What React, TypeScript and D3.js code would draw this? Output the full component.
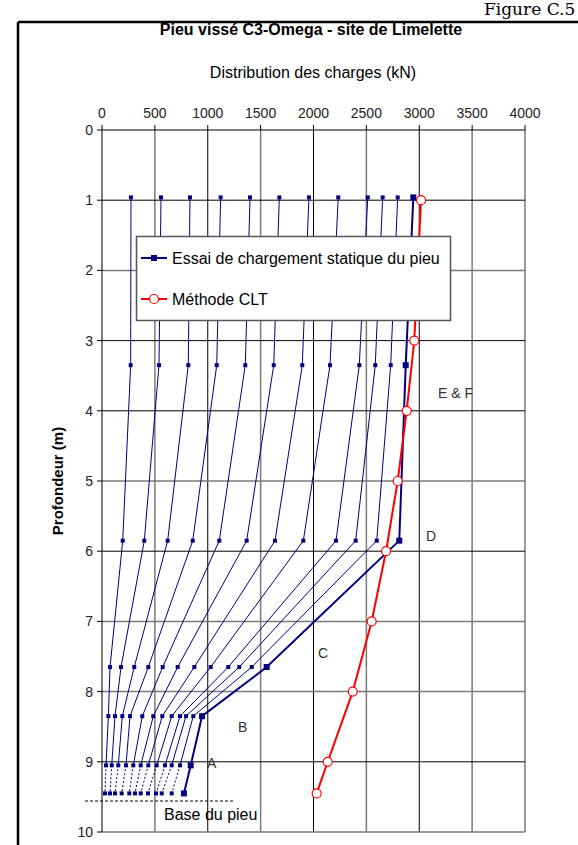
import * as d3 from 'd3';

// Profondeurs des jauges (m)
const depthsEssai = [0.96, 3.35, 5.85, 7.65, 8.35, 9.05, 9.45];

// Charges mesurées (kN) pour chaque palier de chargement, de haut en bas
const paliers = [
    [274, 271, 196, 76, 60, 38, 28],
    [558, 539, 400, 180, 123, 92, 76],
    [832, 816, 621, 305, 192, 154, 123],
    [1122, 1085, 858, 438, 265, 227, 186],
    [1400, 1355, 1109, 574, 381, 296, 258],
    [1677, 1624, 1368, 716, 485, 366, 312],
    [1957, 1894, 1636, 873, 570, 438, 366],
    [2234, 2156, 1904, 1028, 659, 517, 435],
    [2513, 2433, 2213, 1194, 738, 596, 511],
    [2654, 2584, 2399, 1298, 794, 659, 565],
    [2796, 2730, 2598, 1416, 863, 738, 659],
    [2944, 2872, 2811, 1557, 946, 839, 775],
];

// Méthode CLT
const depthsClt = [1, 3, 4, 5, 6, 7, 8, 9, 9.45];
const loadsClt = [3017, 2953, 2881, 2796, 2686, 2550, 2371, 2134, 2030];

// Annotations
const zoneLabels = ['E & F', 'D', 'C', 'B', 'A'];
const zoneLoads = [3177, 3064, 2043, 1286, 993];
const zoneDepths = [3.74, 5.78, 7.45, 8.5, 9.02];

const FONT = "Arial, 'Liberation Sans', sans-serif";
const NAVY = '#000080';

export default function App() {
    const x = d3.scaleLinear().domain([0, 4000]).range([102, 525]);
    const y = d3.scaleLinear().domain([0, 10]).range([130, 832]);

    const xTicks = d3.range(0, 4001, 500);
    const yTicks = d3.range(0, 11, 1);

    // gridline tones alternate like the scanned original
    const grayX = new Set([500, 1500, 2500, 3500, 4000]);
    const grayY = new Set([2, 5, 7, 8, 10]);

    const line = d3.line<[number, number]>()
        .x(d => x(d[0]))
        .y(d => y(d[1]));

    const last = paliers.length - 1;

    return (
        <svg
            width={578}
            height={845}
            style={{ position: 'absolute', left: 0, top: 0, background: '#fff' }}
            fontFamily={FONT}
        >
            {/* page frame */}
            <text x={484} y={15} fontFamily="'DejaVu Serif', serif" fontSize={17}>Figure C.5</text>
            <line x1={18} x2={578} y1={22} y2={22} stroke="#000" strokeWidth={2.5} />
            <line x1={18} x2={18} y1={22} y2={845} stroke="#000" strokeWidth={2.5} />

            <text x={311} y={35} textAnchor="middle" fontWeight="bold" fontSize={16}>
                Pieu vissé C3-Omega - site de Limelette
            </text>
            <text x={313} y={78} textAnchor="middle" fontSize={16}>
                Distribution des charges (kN)
            </text>
            <text
                transform={`translate(63,${y(5)}) rotate(-90)`}
                textAnchor="middle"
                fontWeight="bold"
                fontSize={15}
            >
                Profondeur (m)
            </text>

            {/* grid */}
            {xTicks.map(t => (
                <g key={'x' + t}>
                    {t > 0 && (
                        <line
                            x1={x(t)} x2={x(t)} y1={y(0)} y2={y(10)}
                            stroke={grayX.has(t) ? '#7a7a7a' : '#000'}
                            strokeWidth={grayX.has(t) ? 1.5 : 1}
                        />
                    )}
                    <line x1={x(t)} x2={x(t)} y1={y(0) - 5} y2={y(0)} stroke="#000" />
                    <text x={x(t)} y={118} textAnchor="middle" fontSize={14} fill="#222">{t}</text>
                </g>
            ))}
            {yTicks.map(t => (
                <g key={'y' + t}>
                    {t > 0 && (
                        <line
                            x1={x(0)} x2={x(4000)} y1={y(t)} y2={y(t)}
                            stroke={grayY.has(t) ? '#7a7a7a' : '#000'}
                            strokeWidth={grayY.has(t) ? 1.5 : 1}
                        />
                    )}
                    <line x1={x(0) - 5} x2={x(0)} y1={y(t)} y2={y(t)} stroke="#000" />
                    <text x={93} y={y(t) + 5} textAnchor="end" fontSize={14} fill="#222">{t}</text>
                </g>
            ))}
            <line x1={x(0)} x2={x(4000)} y1={y(0)} y2={y(0)} stroke="#000" />
            <line x1={x(0)} x2={x(0)} y1={y(0)} y2={y(10)} stroke="#000" />

            {/* static load test */}
            {paliers.map((loads, i) => {
                const pts = loads.map((v, k) => [v, depthsEssai[k]] as [number, number]);
                const bold = i === last;
                const sw = bold ? 2 : 1;
                return (
                    <g key={'p' + i}>
                        <path d={line(pts.slice(0, 6)) || ''} fill="none" stroke={NAVY} strokeWidth={sw} />
                        <path
                            d={line(pts.slice(5)) || ''}
                            fill="none"
                            stroke={NAVY}
                            strokeWidth={sw}
                            strokeDasharray={bold ? undefined : '2,2'}
                        />
                        {pts.map((p, k) => {
                            const s = bold ? 6 : 4;
                            return (
                                <rect
                                    key={k}
                                    x={x(p[0]) - s / 2}
                                    y={y(p[1]) - s / 2}
                                    width={s}
                                    height={s}
                                    fill={NAVY}
                                />
                            );
                        })}
                    </g>
                );
            })}

            {/* CLT */}
            <path
                d={line(loadsClt.map((v, k) => [v, depthsClt[k]] as [number, number])) || ''}
                fill="none"
                stroke="#ff0000"
                strokeWidth={2}
            />
            {loadsClt.map((v, k) => (
                <circle key={'c' + k} cx={x(v)} cy={y(depthsClt[k])} r={4.5} fill="#fff" stroke="#ff0000" strokeWidth={1.2} />
            ))}

            {/* legend */}
            <rect x={136.5} y={236.5} width={314} height={84} fill="#fff" stroke="#555" strokeWidth={1.5} />
            <line x1={141} x2={167} y1={258} y2={258} stroke={NAVY} strokeWidth={2} />
            <rect x={151} y={255} width={6} height={6} fill={NAVY} />
            <text x={172} y={264} fontSize={16}>Essai de chargement statique du pieu</text>
            <line x1={141} x2={167} y1={299} y2={299} stroke="#ff0000" strokeWidth={2} />
            <circle cx={154} cy={299} r={4.5} fill="#fff" stroke="#ff0000" strokeWidth={1.2} />
            <text x={172} y={305} fontSize={16}>Méthode CLT</text>

            {/* zones */}
            {zoneLabels.map((lab, i) => (
                <text key={lab} x={x(zoneLoads[i])} y={y(zoneDepths[i]) + 5} fontSize={14} fill="#333">{lab}</text>
            ))}

            {/* pile base */}
            <line x1={85} x2={235} y1={801} y2={801} stroke="#000" strokeDasharray="3,2" />
            <text x={164} y={820} fontSize={16}>Base du pieu</text>
        </svg>
    );
}
